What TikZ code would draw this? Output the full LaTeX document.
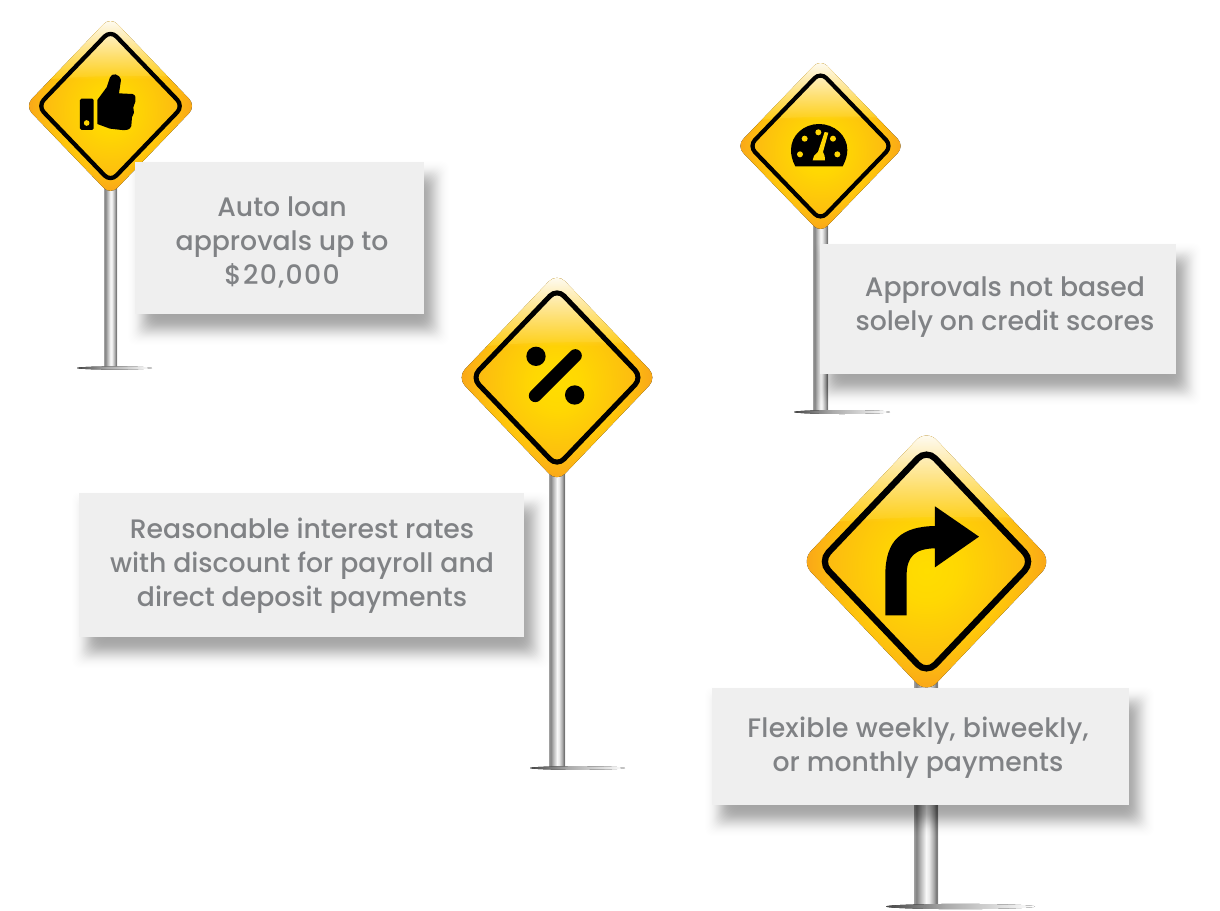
\documentclass[tikz,border=0pt]{standalone}
\usepackage{fontspec}
\usetikzlibrary{fadings}
\setmainfont{Poppins}[UprightFont=* Medium]
\definecolor{txtgray}{HTML}{808285}
\definecolor{boxgray}{HTML}{EFEFEF}
\definecolor{outerA}{HTML}{FFCD05}
\definecolor{outerB}{HTML}{FFC80A}
\definecolor{outerC}{HTML}{F9A31A}
\definecolor{innerA}{HTML}{FFDD00}
\definecolor{innerB}{HTML}{FFD802}
\definecolor{innerC}{HTML}{FCB812}
\definecolor{glossA}{HTML}{FFD21E}
\definecolor{glossD}{HTML}{FFE9B0}
\definecolor{poleA}{HTML}{A0A0A0}
\definecolor{poleB}{HTML}{828282}
\definecolor{poleC}{HTML}{B4B4B4}
\definecolor{poleD}{HTML}{F8F8F8}
\definecolor{poleE}{HTML}{EBEBEB}
\definecolor{poleF}{HTML}{AAAAAA}
\definecolor{poleG}{HTML}{737373}
\definecolor{poleH}{HTML}{969696}
\definecolor{groundA}{HTML}{464646}
\definecolor{groundB}{HTML}{AAAAAA}
\definecolor{iconyellow}{HTML}{FFD503}
\pgfdeclareradialshading{signouter}{\pgfpoint{0bp}{0bp}}{color(0bp)=(outerA);color(16bp)=(outerB);color(25bp)=(outerC);color(50bp)=(outerC)}
\pgfdeclareradialshading{signinner}{\pgfpoint{0bp}{-2bp}}{color(0bp)=(innerA);color(7bp)=(innerB);color(25bp)=(innerC);color(50bp)=(innerC)}
\pgfdeclarehorizontalshading{polegrad}{100bp}{color(0bp)=(poleA);color(25bp)=(poleA);color(30bp)=(poleB);color(38bp)=(poleC);color(50bp)=(poleD);color(56bp)=(poleE);color(66bp)=(poleF);color(72bp)=(poleG);color(75bp)=(poleH);color(100bp)=(poleH)}
\pgfdeclarehorizontalshading{groundgrad}{100bp}{color(0bp)=(groundA);color(25bp)=(groundA);color(45bp)=(groundB);color(75bp)=(white);color(100bp)=(white)}
\tikzfading[name=glossfade,top color=transparent!0,middle color=transparent!72,bottom color=transparent!100]
\tikzset{
  boxtext/.style={text=txtgray,align=center,font=\fontsize{26.7}{34}\selectfont,inner sep=0pt},
  iconfill/.style={fill=black,draw=none},
  iconhole/.style={fill=iconyellow,draw=none},
}
% sign: cx cy halfw halfh
\newcommand{\roadsign}[4]{%
  \begin{scope}[shift={(#1,#2)}]
    \pgfmathsetmacro{\hw}{#3}\pgfmathsetmacro{\hh}{#4}
    \pgfmathsetmacro{\iw}{0.85*#3}\pgfmathsetmacro{\ih}{0.85*#4}
    \pgfmathsetmacro{\rad}{0.115*#3}\pgfmathsetmacro{\rin}{0.10*#3}
    \pgfmathsetmacro{\lw}{0.05*#3}
    \pgfmathsetmacro{\gy}{-#4+0.70*#4}
    \def\outerpath{(-\hw,0) -- (0,-\hh) -- (\hw,0) -- (0,\hh) -- cycle}
    \def\innerpath{(-\iw,0) -- (0,-\ih) -- (\iw,0) -- (0,\ih) -- cycle}
    \def\glosspath{(-\hw,-\hh) -- (\hw,-\hh) -- (\hw,\gy-0.02*\hh) .. controls (0.4*\hw,\gy-0.05*\hh) and (-0.4*\hw,\gy-0.05*\hh) .. (-\hw,\gy+0.03*\hh) -- cycle}
    \fill[rounded corners=\rad pt,shading=signouter] \outerpath;
    \fill[rounded corners=\rin pt,shading=signinner] \innerpath;
    \begin{scope}
      \clip[rounded corners=\rad pt] \outerpath;
      \fill[glossA,opacity=0.65] \glosspath;
      \fill[white,path fading=glossfade] (-\hw,-\hh) rectangle (\hw,\gy);
      \draw[draw=glossD,line width=0.7pt,rounded corners=\rad pt] (-\hw,\gy) -- (0,-\hh) -- (\hw,\gy);
    \end{scope}
    \draw[black,line width=\lw pt,rounded corners=\rin pt] \innerpath;
  \end{scope}}
% pole: x1 x2 y1 y2
\newcommand{\signpole}[4]{\fill[shading=polegrad] (#1,#3) rectangle (#2,#4);}
% ground shadow: x1 x2 y half-thickness
\newcommand{\groundshade}[4]{\fill[shading=groundgrad] ({(#1+#2)/2},#3) ellipse[x radius={(#2-#1)/2},y radius=#4];}
% blurred shadow of rectangle x1 y1 x2 y2
\newcommand{\boxshadow}[4]{%
  \foreach \i in {0,...,44}{
    \pgfmathsetmacro{\e}{22-\i}
    \pgfmathsetmacro{\op}{0.024*exp(-(\e*\e)/110)}
    \fill[black,opacity=\op,rounded corners=8pt] (#1+9-\e,#2+15-\e) rectangle (#3+9+\e,#4+15+\e);
  }}
\begin{document}
\begin{tikzpicture}[x=1pt,y=-1pt]
\useasboundingbox (0,0) rectangle (1220,910);

% ---- poles
\signpole{104}{117}{185}{367}
\groundshade{77}{152}{368}{1.6}
\signpole{813}{828}{225}{411}
\groundshade{794}{890}{412}{2}
\signpole{549}{565}{470}{767}
\groundshade{530}{625}{768}{1.8}
\signpole{914}{938}{680}{904}
\groundshade{886}{1035}{906.5}{2.6}

% ---- signs
\roadsign{110.5}{106}{85.5}{89}
\roadsign{820.5}{146}{84}{87}
\roadsign{557}{377.5}{100}{104.5}
\roadsign{926.5}{561.5}{125.5}{132}

% ---- thumb icon
\begin{scope}[shift={(0,0)},x=0.3333pt,y=-0.3333pt]
  \fill[iconfill,rounded corners=1.5pt] (240,296) rectangle (281,390);
  \fill[iconhole] (260,369) circle[radius=8.5];
  \fill[iconfill] (292,300) -- (320,262) -- (330,232) .. controls (336,218) and (358,220) .. (363,240)
    -- (357,280) -- (397,282) .. controls (408,284) and (408,296) .. (406,305) -- (400,322) -- (402,338) -- (396,352) -- (394,378) .. controls (390,390) and (380,391) .. (365,390)
    -- (330,386) -- (292,372) -- cycle;
\end{scope}

% ---- gauge icon
\begin{scope}[shift={(730,50)},x=0.3333pt,y=-0.3333pt]
  \fill[iconfill] (196,349) .. controls (186,330) and (183,315) .. (183,300) .. controls (183,255) and (222,222) .. (267,222) .. controls (312,222) and (352,255) .. (352,300) .. controls (352,315) and (348,330) .. (338,349) -- cycle;
  \foreach \dx/\dy in {224/266,265/247,309/266,210/313,322/313}
    \fill[iconhole] (\dx,\dy) circle[radius=9];
  \fill[iconhole] (248,331) -- (252,318) -- (264,306) -- (284,246) -- (295,248) -- (279,306) -- (284,318) -- (285,331) -- cycle;
\end{scope}

% ---- percent icon
\begin{scope}[shift={(450,270)},x=0.3333pt,y=-0.3333pt]
  \fill[iconfill] (258,259) circle[radius=29];
  \fill[iconfill] (374,375) circle[radius=29];
  \draw[black,line width=13pt,line cap=round] (376,257) -- (256,377);
\end{scope}

% ---- turn arrow icon
\begin{scope}[shift={(790,425)},x=0.3333pt,y=-0.3333pt]
  \fill[iconfill] (286,571) -- (350,571) -- (350,450) .. controls (350,395) and (375,371) .. (435,370)
    -- (435,427) -- (567,335) -- (435,244) -- (435,303) .. controls (335,305) and (286,345) .. (286,450) -- cycle;
\end{scope}

% ---- boxes
\boxshadow{135}{162}{424}{314}
\fill[boxgray] (135,162) rectangle (424,314);
\node[boxtext] (t1) at (282,242) {Auto loan\\approvals up to\\{\addfontfeature{LetterSpace=5}\$20,000}};

\boxshadow{820}{244}{1176}{374}
\fill[boxgray] (820,244) rectangle (1176,374);
\node[boxtext] (t2) at (1005,307) {Approvals not based\\solely on credit scores};

\boxshadow{79}{493}{524}{637}
\fill[boxgray] (79,493) rectangle (524,637);
\node[boxtext] (t3) at (302,566) {Reasonable interest rates\\with discount for payroll and\\direct deposit payments};

\boxshadow{712}{688}{1129}{805}
\fill[boxgray] (712,688) rectangle (1129,805);
\node[boxtext] (t4) at (918,748) {{\addfontfeature{LetterSpace=1}Flexible weekly, biweekly,}\\or monthly payments};
\end{tikzpicture}
\end{document}
